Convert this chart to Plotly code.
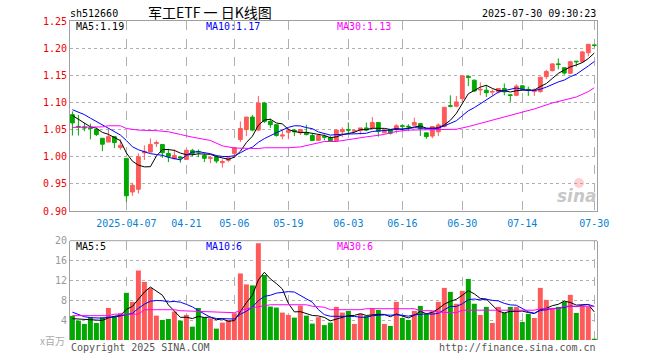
import plotly.graph_objects as go
import pandas as pd

# ---------------- data ----------------
dates = [
    "2025-03-24", "2025-03-25", "2025-03-26", "2025-03-27", "2025-03-28", "2025-03-31",
    "2025-04-01", "2025-04-02", "2025-04-03", "2025-04-07", "2025-04-08", "2025-04-09",
    "2025-04-10", "2025-04-11", "2025-04-14", "2025-04-15", "2025-04-16", "2025-04-17",
    "2025-04-18", "2025-04-21", "2025-04-22", "2025-04-23", "2025-04-24", "2025-04-25",
    "2025-04-28", "2025-04-29", "2025-04-30", "2025-05-06", "2025-05-07", "2025-05-08",
    "2025-05-09", "2025-05-12", "2025-05-13", "2025-05-14", "2025-05-15", "2025-05-16",
    "2025-05-19", "2025-05-20", "2025-05-21", "2025-05-22", "2025-05-23", "2025-05-26",
    "2025-05-27", "2025-05-28", "2025-05-29", "2025-05-30", "2025-06-03", "2025-06-04",
    "2025-06-05", "2025-06-06", "2025-06-09", "2025-06-10", "2025-06-11", "2025-06-12",
    "2025-06-13", "2025-06-16", "2025-06-17", "2025-06-18", "2025-06-19", "2025-06-20",
    "2025-06-23", "2025-06-24", "2025-06-25", "2025-06-26", "2025-06-27", "2025-06-30",
    "2025-07-01", "2025-07-02", "2025-07-03", "2025-07-04", "2025-07-07", "2025-07-08",
    "2025-07-09", "2025-07-10", "2025-07-11", "2025-07-14", "2025-07-15", "2025-07-16",
    "2025-07-17", "2025-07-18", "2025-07-21", "2025-07-22", "2025-07-23", "2025-07-24",
    "2025-07-25", "2025-07-28", "2025-07-29", "2025-07-30",
]

opens = [
    1.0775, 1.056, 1.055, 1.053, 1.050, 1.034, 1.027, 1.037, 1.017, 0.997,
    0.935, 0.940, 1.007, 1.0085, 1.024, 1.0226, 1.006, 0.9963, 0.9994, 0.995,
    1.0116, 1.0098, 1.0024, 0.997, 0.9994, 0.989, 0.9933, 1.006, 1.0317, 1.050,
    1.073, 1.049, 1.099, 1.065, 1.059, 1.038, 1.045, 1.049, 1.044, 1.044,
    1.039, 1.030, 1.037, 1.035, 1.029, 1.046, 1.050, 1.047, 1.048, 1.053,
    1.053, 1.063, 1.044, 1.050, 1.051, 1.057, 1.056, 1.058, 1.061, 1.044,
    1.038, 1.046, 1.0555, 1.094, 1.093, 1.107, 1.148, 1.141, 1.123, 1.1225,
    1.119, 1.1195, 1.1256, 1.114, 1.113, 1.1305, 1.124, 1.120, 1.120, 1.1475,
    1.1585, 1.171, 1.164, 1.1537, 1.176, 1.175, 1.1915, 1.206,
]
highs = [
    1.0836, 1.077, 1.062, 1.061, 1.053, 1.034, 1.050, 1.038, 1.032, 0.997,
    0.952, 1.006, 1.021, 1.0336, 1.030, 1.023, 1.0146, 1.0134, 1.001, 1.013,
    1.0146, 1.0134, 1.0055, 1.001, 1.0024, 0.995, 1.001, 1.018, 1.065, 1.073,
    1.077, 1.112, 1.101, 1.070, 1.060, 1.050, 1.053, 1.051, 1.050, 1.059,
    1.042, 1.041, 1.041, 1.038, 1.050, 1.054, 1.063, 1.051, 1.053, 1.063,
    1.073, 1.063, 1.051, 1.050, 1.060, 1.060, 1.060, 1.072, 1.061, 1.044,
    1.0555, 1.0615, 1.091, 1.113, 1.112, 1.149, 1.150, 1.142, 1.137, 1.132,
    1.124, 1.1256, 1.135, 1.1145, 1.1335, 1.132, 1.129, 1.126, 1.1465, 1.160,
    1.172, 1.181, 1.164, 1.177, 1.176, 1.195, 1.207, 1.206,
]
lows = [
    1.039, 1.039, 1.047, 1.032, 1.038, 1.010, 1.027, 1.016, 1.013, 0.917,
    0.928, 0.932, 0.994, 1.0073, 1.018, 0.998, 0.990, 0.995, 0.989, 0.995,
    1.001, 0.999, 0.990, 0.988, 0.988, 0.980, 0.990, 0.998, 1.027, 1.038,
    1.047, 1.047, 1.062, 1.053, 1.037, 1.032, 1.032, 1.038, 1.040, 1.039,
    1.029, 1.029, 1.030, 1.028, 1.029, 1.036, 1.043, 1.043, 1.041, 1.047,
    1.053, 1.037, 1.043, 1.041, 1.043, 1.048, 1.047, 1.058, 1.038, 1.033,
    1.034, 1.038, 1.054, 1.091, 1.091, 1.101, 1.130, 1.1195, 1.113, 1.110,
    1.113, 1.1165, 1.113, 1.101, 1.1115, 1.122, 1.112, 1.112, 1.118, 1.143,
    1.157, 1.161, 1.151, 1.1525, 1.166, 1.173, 1.185, 1.202,
]
closes = [
    1.0622, 1.055, 1.053, 1.052, 1.041, 1.023, 1.037, 1.026, 1.021, 0.928,
    0.9475, 1.000, 1.010, 1.0226, 1.026, 1.0073, 1.000, 1.0024, 0.9976, 1.012,
    1.006, 1.009, 0.997, 0.998, 0.992, 0.991, 0.998, 1.0165, 1.052, 1.073,
    1.049, 1.099, 1.065, 1.059, 1.039, 1.040, 1.048, 1.046, 1.050, 1.041,
    1.030, 1.039, 1.036, 1.029, 1.049, 1.050, 1.049, 1.048, 1.053, 1.049,
    1.063, 1.047, 1.049, 1.043, 1.057, 1.056, 1.055, 1.063, 1.052, 1.037,
    1.0555, 1.0585, 1.091, 1.093, 1.101, 1.149, 1.146, 1.121, 1.124, 1.118,
    1.120, 1.1256, 1.1195, 1.113, 1.130, 1.1245, 1.123, 1.123, 1.1465, 1.157,
    1.171, 1.170, 1.154, 1.175, 1.175, 1.193, 1.207, 1.205,
]
# volume, millions
volumes = [
    4.85, 3.9, 3.23, 4.58, 3.43, 4.58, 6.46, 4.85, 5.39, 9.5,
    7.68, 14.0, 11.7, 10.5, 4.91, 4.04, 4.24, 5.72, 3.9, 5.05,
    2.69, 6.46, 4.58, 4.38, 2.29, 3.5, 4.04, 5.39, 13.4, 11.2,
    11.0, 19.5, 13.1, 6.73, 6.53, 5.52, 5.05, 4.51, 6.93, 4.91,
    3.3, 4.6, 3.0, 3.5, 6.67, 5.52, 5.86, 3.23, 5.25, 4.85,
    6.4, 6.06, 3.23, 2.83, 7.68, 4.44, 4.04, 5.86, 6.87, 5.25,
    5.8, 7.68, 10.5, 9.7, 7.3, 9.9, 12.3, 7.3, 5.05, 6.67,
    3.43, 6.67, 5.45, 6.67, 6.67, 3.64, 5.25, 4.44, 10.5, 8.08,
    6.26, 6.67, 7.68, 9.09, 5.45, 6.87, 6.67, 0.2,
]

# moving-average values before the window is complete
ma5_head = [1.076, 1.0695, 1.062, 1.055]
ma10_head = [1.0866, 1.082, 1.0775, 1.071, 1.065, 1.059, 1.053, 1.047, 1.040]
vma5_head = [4.3, 4.2, 4.1, 4.0]
vma10_head = [5.6, 5.1, 4.7, 4.5, 4.4, 4.4, 4.6, 4.6, 4.85]

# MA30 (day index, value)
ma30_idx = [0, 5, 6, 8, 9, 11, 14, 16, 18, 20, 23, 25, 27, 29, 31, 32, 36, 38, 40, 41,
            42, 44, 45, 46, 48, 49, 50, 52, 53, 54, 56, 63, 64, 66, 68, 70, 72, 74, 77,
            80, 84, 86, 87]
ma30_val = [1.054, 1.055, 1.057, 1.057, 1.052, 1.049, 1.048, 1.046, 1.041, 1.036,
            1.030, 1.020, 1.016, 1.015, 1.015, 1.0165, 1.0165, 1.018, 1.0226, 1.0256,
            1.028, 1.028, 1.030, 1.032, 1.035, 1.0366, 1.038, 1.041, 1.044, 1.0464,
            1.049, 1.0494, 1.0506, 1.0555, 1.0616, 1.0677, 1.0738, 1.079, 1.088,
            1.099, 1.110, 1.120, 1.127]
vma30_idx = [0, 6, 7, 11, 12, 17, 18, 22, 27, 29, 32, 33, 39, 40, 42, 43, 48, 49, 57,
             58, 60, 61, 64, 65, 77, 78, 81, 82, 87]
vma30_val = [4.9, 4.9, 5.2, 5.2, 6.1, 6.1, 5.9, 5.7, 5.5, 6.3, 7.0, 7.1, 7.1, 6.8, 6.6,
             6.1, 6.1, 6.3, 6.3, 5.9, 5.9, 5.6, 5.5, 6.0, 6.0, 6.3, 6.3, 6.8, 6.8]

tick_dates = ["2025-04-07", "2025-04-21", "2025-05-06", "2025-05-19", "2025-06-03",
              "2025-06-16", "2025-06-30", "2025-07-14", "2025-07-30"]
tick_labels = ["2025-04-07", "04-21", "05-06", "05-19", "06-03", "06-16", "06-30",
               "07-14", "07-30"]
price_ticks = [0.90, 0.95, 1.00, 1.05, 1.10, 1.15, 1.20, 1.25]
vol_ticks = [4, 8, 12, 16, 20]

# ---------------- derived ----------------
def rolling_with_head(vals, n, head):
    out = pd.Series(vals).rolling(n).mean().tolist()
    out[:len(head)] = head
    return out

ma5 = rolling_with_head(closes, 5, ma5_head)
ma10 = rolling_with_head(closes, 10, ma10_head)
vma5 = rolling_with_head(volumes, 5, vma5_head)
vma10 = rolling_with_head(volumes, 10, vma10_head)

RED = "#ff5a5a"
GREEN = "#00a800"
MONO = "DejaVu Sans Mono"

vol_colors = [RED if c >= o else GREEN for o, c in zip(opens, closes)]

fig = go.Figure()

fig.add_trace(go.Candlestick(
    x=dates, open=opens, high=highs, low=lows, close=closes,
    increasing=dict(line=dict(color=RED, width=1), fillcolor=RED),
    decreasing=dict(line=dict(color=GREEN, width=1), fillcolor=GREEN),
    whiskerwidth=0, xaxis="x", yaxis="y", showlegend=False, hoverinfo="skip",
))
fig.add_trace(go.Scatter(x=dates, y=ma5, mode="lines", line=dict(color="black", width=1),
                         xaxis="x", yaxis="y", showlegend=False))
fig.add_trace(go.Scatter(x=dates, y=ma10, mode="lines", line=dict(color="#0000ff", width=1),
                         xaxis="x", yaxis="y", showlegend=False))
fig.add_trace(go.Scatter(x=[dates[i] for i in ma30_idx], y=ma30_val, mode="lines",
                         line=dict(color="#ff00ff", width=1), xaxis="x", yaxis="y",
                         showlegend=False))

fig.add_trace(go.Bar(x=dates, y=volumes, marker=dict(color=vol_colors, line=dict(width=0)),
                     xaxis="x2", yaxis="y2", showlegend=False))
fig.add_trace(go.Scatter(x=dates, y=vma5, mode="lines", line=dict(color="black", width=1),
                         xaxis="x2", yaxis="y2", showlegend=False))
fig.add_trace(go.Scatter(x=dates, y=vma10, mode="lines", line=dict(color="#0000ff", width=1),
                         xaxis="x2", yaxis="y2", showlegend=False))
fig.add_trace(go.Scatter(x=[dates[i] for i in vma30_idx], y=vma30_val, mode="lines",
                         line=dict(color="#ff00ff", width=1), xaxis="x2", yaxis="y2",
                         showlegend=False))

L, R, T, B = 70, 63, 21, 20
W, H = 660, 360
PW, PH = W - L - R, H - T - B


def px(x):
    return (x - L) / PW


def py(y):
    return (H - B - y) / PH


GRID = "#b0b0b0"
BORDER = "#a0a0a0"
xr = [-0.4, 87.45]

fig.update_layout(
    width=W, height=H, margin=dict(l=L, r=R, t=T, b=B, autoexpand=False),
    paper_bgcolor="white", plot_bgcolor="white",
    bargap=0.17, boxgap=0.2, boxgroupgap=0.2,
    font=dict(family=MONO, size=10, color="black"),
    xaxis=dict(type="category", categoryorder="array", categoryarray=dates,
               range=xr, domain=[0, 1], anchor="y",
               tickmode="array", tickvals=tick_dates, ticktext=tick_labels,
               tickfont=dict(family=MONO, size=10, color="#0a7fd0"),
               ticklabelstandoff=3,
               showgrid=True, gridcolor=GRID, griddash="dash", gridwidth=1,
               showline=True, linecolor=BORDER, linewidth=1, mirror=True,
               ticks="", rangeslider=dict(visible=False), zeroline=False),
    yaxis=dict(domain=[py(211), 1], range=[0.90, 1.25], anchor="x",
               tickmode="array", tickvals=price_ticks,
               ticktext=[f"{v:.2f}" for v in price_ticks],
               tickfont=dict(family=MONO, size=10, color="#ee0000"),
               showgrid=True, gridcolor=GRID, griddash="dot", gridwidth=1,
               showline=True, linecolor=BORDER, linewidth=1, mirror=True,
               ticks="", zeroline=False),
    xaxis2=dict(type="category", categoryorder="array", categoryarray=dates,
                range=xr, domain=[0, 1], anchor="y2", matches="x",
                tickmode="array", tickvals=tick_dates, showticklabels=False,
                showgrid=True, gridcolor=GRID, griddash="dash", gridwidth=1,
                showline=False, ticks="", zeroline=False),
    yaxis2=dict(domain=[0, py(240.7)], range=[0, 20], anchor="x2",
                tickmode="array", tickvals=vol_ticks,
                tickfont=dict(family=MONO, size=10, color="#999999"),
                showgrid=True, gridcolor=GRID, griddash="dot", gridwidth=1,
                showline=True, linecolor=BORDER, linewidth=1, mirror=True,
                ticks="", zeroline=False),
)

# top border of the volume panel
fig.add_shape(type="line", xref="paper", yref="paper", x0=0, x1=1,
              y0=py(240.7), y1=py(240.7), line=dict(color=BORDER, width=1))

ann = []


def text(x, y, s, anchor="left", color="black", size=10, family=MONO):
    ann.append(dict(x=px(x), y=py(y), xref="paper", yref="paper", text=s,
                    showarrow=False, xanchor=anchor, yanchor="middle",
                    font=dict(family=family, size=size, color=color)))


text(68, 13, "sh512660")
text(210, 12, "军工ETF 一 日K线图", anchor="center", size=14, family="Noto Sans CJK SC")
text(598, 13, "2025-07-30 09:30:23", anchor="right")
text(74, 27, f"MA5:{ma5[-1]:.2f}")
text(204, 27, f"MA10:{int(ma10[-1] * 100) / 100:.2f}", color="#0000ff")
text(335, 27, f"MA30:{ma30_val[-1]:.2f}", color="#ff00ff")
text(74, 246, f"MA5:{int(vma5[-1])}")
text(204, 246, f"MA10:{int(vma10[-1])}", color="#0000ff")
text(335, 246, f"MA30:{int(vma30_val[-1])}", color="#ff00ff")
text(67, 340, "x百万", anchor="right", color="#aaaaaa", size=10, family="Noto Sans CJK SC")
text(69, 348, "Copyright 2025 SINA.COM", color="#555555")
text(598, 348, "http://finance.sina.com.cn", anchor="right", color="#555555")
ann.append(dict(x=px(577), y=py(196), xref="paper", yref="paper", text="<b><i>sina</i></b>",
                showarrow=False, xanchor="center", yanchor="middle",
                font=dict(family="DejaVu Sans", size=17, color="rgba(150,150,150,0.55)")))
fig.update_layout(annotations=ann)
fig.add_shape(type="circle", xref="paper", yref="paper",
              x0=px(574), x1=px(584), y0=py(188), y1=py(178),
              fillcolor="rgba(255,120,120,0.35)", line=dict(width=0))

fig.write_html("out.html", config={"displayModeBar": False},
               post_script="document.body.style.margin='0';document.body.style.overflow='hidden';")
